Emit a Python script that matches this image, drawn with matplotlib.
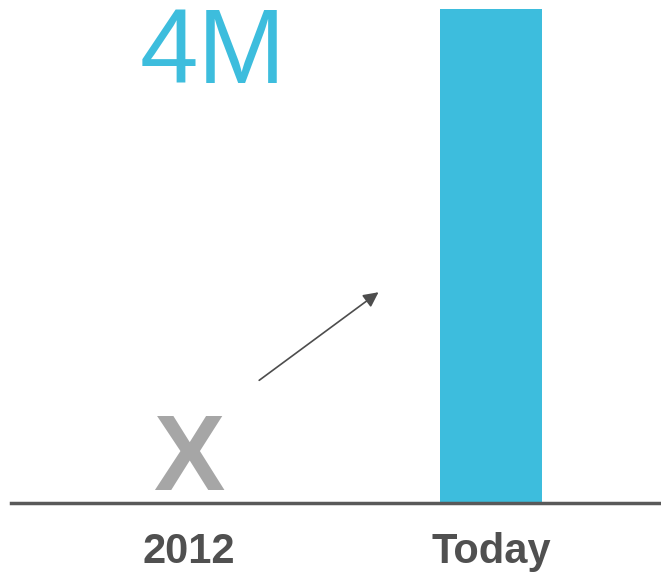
import matplotlib
matplotlib.use("Agg")
import matplotlib.pyplot as plt

categories = ["2012", "Today"]
values = [0, 4.0]          # millions
value_labels = ["X", "4M"]

W, H = 661, 573
fig = plt.figure(figsize=(W/100, H/100), dpi=100)
ax_left, ax_right = 11, 661
ax_bottom, ax_top = 503, 9
ax = fig.add_axes([ax_left/W, (H-ax_bottom)/H, (ax_right-ax_left)/W, (ax_bottom-ax_top)/H])

c0, c1 = 189, 491
unit = c1 - c0
ax.set_xlim(-(c0-ax_left)/unit, 1 + (ax_right-c1)/unit)
ax.set_ylim(0, 4.0)

xs = list(range(len(categories)))
ax.bar(xs[1], values[1], width=102/unit, color="#3DBDDD", zorder=2)

for s in ["top", "right", "left"]:
    ax.spines[s].set_visible(False)
ax.spines["bottom"].set_color("#595959")
ax.spines["bottom"].set_linewidth(2.5)
ax.spines["bottom"].set_zorder(3)
ax.set_yticks([])
ax.set_xticks(xs)
ax.set_xticklabels(categories, fontsize=30, fontweight="bold", color="#505050",
                   family="Liberation Sans")
ax.tick_params(axis="x", length=0, pad=21)

# value labels
ax.text(xs[0], 0.105, value_labels[0], ha="center", va="baseline", fontsize=77,
        fontweight="bold", color="#A6A6A6", family="Liberation Sans")
ax.text(xs[0] + 24/unit, 3.40, value_labels[1], ha="center", va="baseline", fontsize=76,
        color="#3DBDDD", family="Liberation Sans")

# arrow
ax.annotate("", xy=(0.635, 1.72), xytext=(0.225, 0.98),
            arrowprops=dict(arrowstyle="-|>,head_length=0.9,head_width=0.45",
                            color="#4D4D4D", lw=1.2))

fig.savefig("out.png", dpi=100)
